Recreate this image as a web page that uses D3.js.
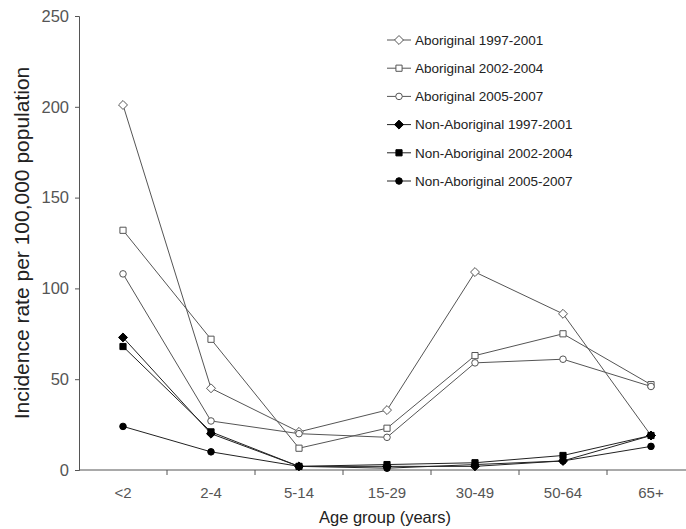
<!DOCTYPE html>
<html>
<head>
<meta charset="utf-8">
<script src="https://cdn.jsdelivr.net/npm/d3@7"></script>
<style>
  body { margin: 0; background: #fff; }
  svg { display: block; font-family: "Liberation Sans", Arial, sans-serif; }
</style>
</head>
<body>
<div id="chart"></div>
<script>
const width = 686
const height = 529

const ageGroups = ["<2", "2-4", "5-14", "15-29", "30-49", "50-64", "65+"]
const yTicks = [0, 50, 100, 150, 200, 250]

const seriesNames = [
  "Aboriginal 1997-2001",
  "Aboriginal 2002-2004",
  "Aboriginal 2005-2007",
  "Non-Aboriginal 1997-2001",
  "Non-Aboriginal 2002-2004",
  "Non-Aboriginal 2005-2007"
]
const seriesShapes = ["diamond", "square", "circle", "diamond", "square", "circle"]
const seriesFilled = [false, false, false, true, true, true]

const ab9701 = [201, 45, 21, 33, 109, 86, 19]
const ab0204 = [132, 72, 12, 23, 63, 75, 47]
const ab0507 = [108, 27, 20, 18, 59, 61, 46]
const non9701 = [73, 20, 2, 2, 2, 5, 19]
const non0204 = [68, 21, 2, 3, 4, 8, 19]
const non0507 = [24, 10, 2, 1, 3, 5, 13]

const seriesValues = [ab9701, ab0204, ab0507, non9701, non0204, non0507]

const margin = {left: 79, top: 16}
const plotBottom = 470

const svg = d3.select("#chart").append("svg")
  .attr("width", width)
  .attr("height", height)

// category band runs off the right edge, like the original
const x = d3.scaleBand()
  .domain(ageGroups)
  .range([margin.left, margin.left + 88 * ageGroups.length])

const y = d3.scaleLinear()
  .domain([0, 250])
  .range([plotBottom, margin.top])

const axisColor = "#555"
const textColor = "#555"

/* y axis */
const yAxis = svg.append("g")
  .attr("transform", `translate(${margin.left},0)`)
  .call(d3.axisLeft(y).tickValues(yTicks).tickSize(4).tickPadding(6))
yAxis.select(".domain").attr("stroke", axisColor)
yAxis.selectAll(".tick line").attr("stroke", axisColor)
yAxis.selectAll(".tick text")
  .attr("fill", textColor)
  .style("font-size", "16.5px")

/* x axis */
const xAxisG = svg.append("g")
  .attr("transform", `translate(0,${plotBottom})`)
xAxisG.append("line")
  .attr("x1", margin.left).attr("x2", width)
  .attr("stroke", axisColor)
xAxisG.selectAll(".xt")
  .data(ageGroups)
  .join("line")
  .attr("class", "xt")
  .attr("x1", d => x(d) + x.bandwidth()).attr("x2", d => x(d) + x.bandwidth())
  .attr("y1", 0).attr("y2", 5)
  .attr("stroke", axisColor)
xAxisG.selectAll(".xl")
  .data(ageGroups)
  .join("text")
  .attr("class", "xl")
  .attr("x", d => x(d) + x.bandwidth() / 2)
  .attr("y", 28)
  .attr("text-anchor", "middle")
  .attr("fill", textColor)
  .style("font-size", "15px")
  .text(d => d)

/* axis titles */
svg.append("text")
  .attr("x", 385)
  .attr("y", 523)
  .attr("text-anchor", "middle")
  .attr("fill", "#222")
  .style("font-size", "16.5px")
  .text("Age group (years)")

svg.append("text")
  .attr("transform", "translate(29,243) rotate(-90)")
  .attr("text-anchor", "middle")
  .attr("fill", "#222")
  .style("font-size", "21px")
  .text("Incidence rate per 100,000 population")

/* markers */
const diamondSymbol = {
  draw(ctx, size) {
    const r = Math.sqrt(size / 2)
    ctx.moveTo(0, -r)
    ctx.lineTo(r, 0)
    ctx.lineTo(0, r)
    ctx.lineTo(-r, 0)
    ctx.closePath()
  }
}
const symbolType = {
  diamond: diamondSymbol,
  square: d3.symbolSquare,
  circle: d3.symbolCircle
}
const symbolSize = {diamond: 40, square: 38, circle: 34}

function marker(sel, shape, filled) {
  sel.attr("d", d3.symbol(symbolType[shape], symbolSize[shape]))
    .attr("fill", filled ? "#000" : "#fff")
    .attr("stroke", filled ? "#000" : "#555")
    .attr("stroke-width", 1)
}

const line = d3.line()
  .x((d, i) => x(ageGroups[i]) + x.bandwidth() / 2)
  .y(d => y(d))

seriesValues.forEach((vals, s) => {
  svg.append("path")
    .datum(vals)
    .attr("d", line)
    .attr("fill", "none")
    .attr("stroke", seriesFilled[s] ? "#222" : "#555")
    .attr("stroke-width", 1)
})

seriesValues.forEach((vals, s) => {
  svg.append("g").selectAll("path")
    .data(vals)
    .join("path")
    .attr("transform", (d, i) => `translate(${x(ageGroups[i]) + x.bandwidth() / 2},${y(d)})`)
    .call(marker, seriesShapes[s], seriesFilled[s])
})

/* legend */
const legend = svg.append("g")
const legendRow = d3.scaleLinear().domain([0, 1]).range([40, 68.2])

seriesNames.forEach((name, s) => {
  const ry = legendRow(s)
  legend.append("line")
    .attr("x1", 387).attr("x2", 411)
    .attr("y1", ry).attr("y2", ry)
    .attr("stroke", seriesFilled[s] ? "#222" : "#555")
  legend.append("path")
    .attr("transform", `translate(399,${ry})`)
    .call(marker, seriesShapes[s], seriesFilled[s])
  legend.append("text")
    .attr("x", 415)
    .attr("y", ry)
    .attr("dy", "0.35em")
    .attr("fill", "#222")
    .style("font-size", "13.5px")
    .text(name)
})
</script>
</body>
</html>
